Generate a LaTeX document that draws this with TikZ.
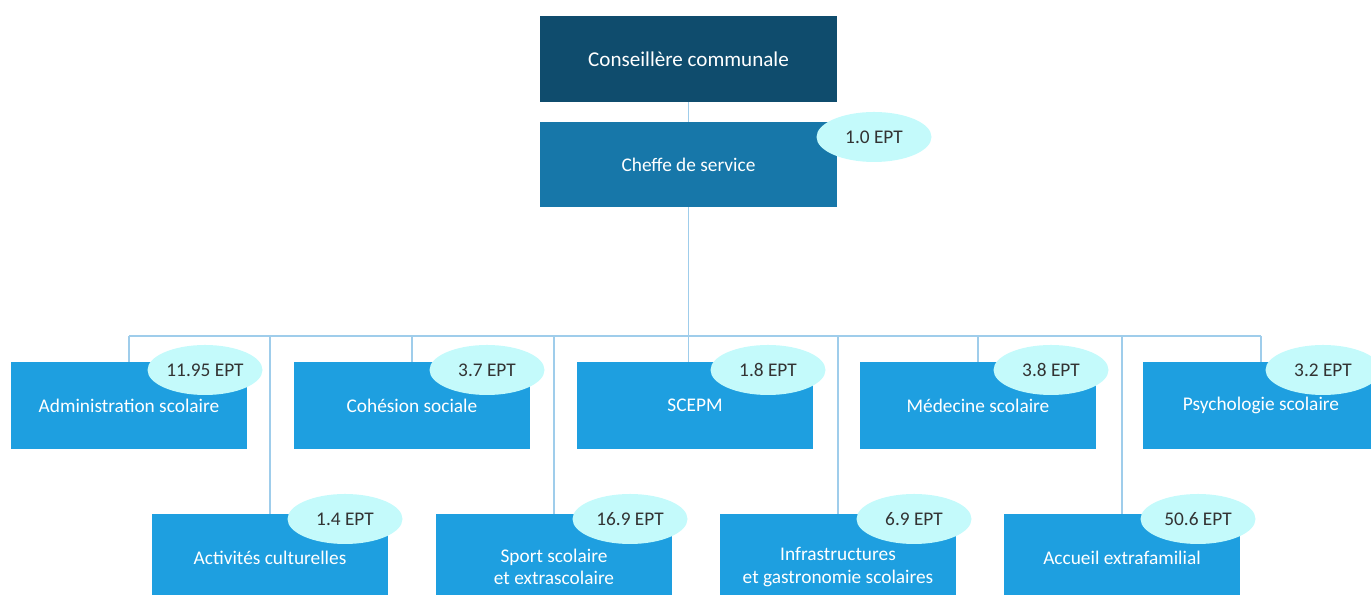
\documentclass[tikz,border=0pt]{standalone}
\usepackage{fontspec}
\setmainfont{Carlito}
\usetikzlibrary{shapes.geometric}
\definecolor{headfill}{HTML}{0F4C6D}
\definecolor{chieffill}{HTML}{1777A9}
\definecolor{servicefill}{HTML}{1E9FE0}
\definecolor{eptfill}{HTML}{C4FAFB}
\definecolor{eptdark}{HTML}{333333}
\definecolor{linkblue}{HTML}{9FCDEB}
\tikzset{
  orgbox/.style={
    rectangle,
    align=center,
    text=white,
    inner sep=2pt,
    minimum width=4.72cm,
    minimum height=1.74cm,
    font=\fontsize{11}{13}\selectfont
  },
  head/.style={orgbox, fill=headfill, minimum width=5.94cm, minimum height=1.72cm, font=\fontsize{12}{14}\selectfont},
  chief/.style={orgbox, fill=chieffill, minimum width=5.94cm, minimum height=1.7cm},
  service/.style={orgbox, fill=servicefill},
  ept/.style={ellipse, fill=eptfill, text=eptdark, minimum width=2.3cm, minimum height=1.0cm, inner sep=0pt, font=\fontsize{11}{13}\selectfont},
  link/.style={draw=linkblue, line width=0.9pt}
}

\begin{document}
\begin{tikzpicture}
\useasboundingbox (0,0) rectangle (27.42,11.9);

% Top of the chart.
\node[head] (conseillere) at (13.77,10.72) {Conseillère communale};
\node[chief] (cheffe) at (13.77,8.61) {Cheffe de service};

% First row of services.
\node[service] (admin) at (2.58,3.79) {Administration scolaire};
\node[service] (cohesion) at (8.24,3.79) {Cohésion sociale};
\node[service] (scepm) at (13.90,3.79) {SCEPM};
\node[service] (medecine) at (19.56,3.79) {Médecine scolaire};
\node[service] (psycho) at (25.22,3.79) {Psychologie scolaire};

% Second row of services.
\node[service] (culture) at (5.40,0.75) {Activités culturelles};
\node[service] (sport) at (11.08,0.75) {\phantom{x}\\Sport scolaire\\et extrascolaire};
\node[service] (infra) at (16.76,0.75) {\phantom{x}\\Infrastructures\\et gastronomie scolaires};
\node[service] (accueil) at (22.44,0.75) {Accueil extrafamilial};

% Links.
\coordinate (bus) at (13.77,5.18);
\draw[link] (conseillere) -- (cheffe);
\draw[link] (cheffe.south) -- (cheffe.south |- scepm.north);
\draw[link] (admin.north |- bus) -- (psycho.north |- bus);
\foreach \unit in {admin,cohesion,medecine,psycho,culture,sport,infra,accueil} {
  \draw[link] (\unit.north |- bus) -- (\unit.north);
}

% EPT tags.
\node[ept] (eptcheffe) at (17.48,9.16) {1.0 EPT};
\node[ept] (eptadmin) at (4.10,4.50) {11.95 EPT};
\node[ept] (eptcohesion) at (9.74,4.50) {3.7 EPT};
\node[ept] (eptscepm) at (15.36,4.50) {1.8 EPT};
\node[ept] (eptmedecine) at (21.02,4.50) {3.8 EPT};
\node[ept] (eptpsycho) at (26.46,4.50) {3.2 EPT};
\node[ept] (eptculture) at (6.90,1.52) {1.4 EPT};
\node[ept] (eptsport) at (12.60,1.52) {16.9 EPT};
\node[ept] (eptinfra) at (18.28,1.52) {6.9 EPT};
\node[ept] (eptaccueil) at (23.96,1.52) {50.6 EPT};

\end{tikzpicture}
\end{document}
